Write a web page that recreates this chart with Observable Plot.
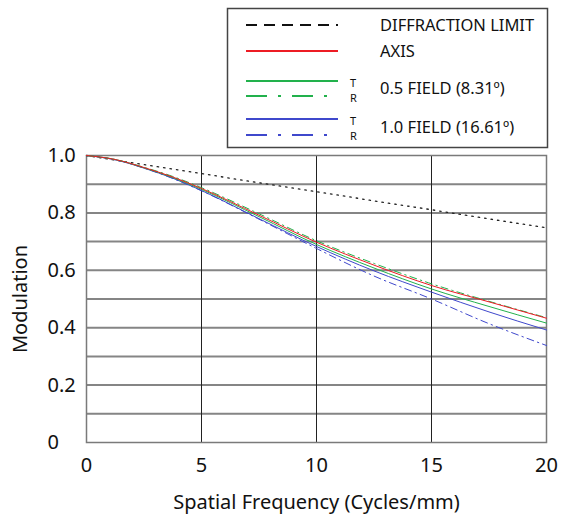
<!DOCTYPE html>
<html>
<head>
<meta charset="utf-8">
<script src="https://cdn.jsdelivr.net/npm/d3@7"></script>
<script src="https://cdn.jsdelivr.net/npm/@observablehq/plot@0.6"></script>
<style>
  html, body { margin: 0; padding: 0; background: #fff; }
  #wrap { position: relative; width: 571px; height: 517px; font-family: "Noto Sans", "Open Sans", sans-serif; }
  #legend { position: absolute; left: 0; top: 0; }
</style>
</head>
<body>
<div id="wrap">
  <div id="chart"></div>
  <svg id="legend" width="571" height="150"></svg>
</div>
<script>
// Spatial frequency (cycles/mm)
const freq = [0, 1.25, 2.5, 3.75, 5, 7.5, 10, 12.5, 15, 17.5, 20];
// Modulation values
const diffraction = [1.0, 0.984, 0.968, 0.953, 0.937, 0.905, 0.874, 0.842, 0.811, 0.779, 0.748];
const axisMTF    = [1.0, 0.986, 0.958, 0.925, 0.885, 0.792, 0.698, 0.618, 0.547, 0.490, 0.433];
const half_T     = [1.0, 0.986, 0.957, 0.923, 0.882, 0.787, 0.690, 0.608, 0.535, 0.474, 0.416];
const half_R     = [1.0, 0.986, 0.959, 0.927, 0.888, 0.797, 0.703, 0.624, 0.553, 0.492, 0.435];
const full_T     = [1.0, 0.985, 0.956, 0.921, 0.878, 0.780, 0.683, 0.598, 0.524, 0.455, 0.392];
const full_R     = [1.0, 0.985, 0.956, 0.920, 0.877, 0.778, 0.676, 0.580, 0.500, 0.414, 0.338];

const xTicks = [0, 5, 10, 15, 20];
const yTicks = [0, 0.2, 0.4, 0.6, 0.8, 1.0];
const yGrid = [0.1, 0.2, 0.3, 0.4, 0.5, 0.6, 0.7, 0.8, 0.9];
const xGrid = [5, 10, 15];

const legendItems = [
  {label: "DIFFRACTION LIMIT"},
  {label: "AXIS"},
  {label: "0.5 FIELD (8.31º)"},
  {label: "1.0 FIELD (16.61º)"}
];

const RED = "#ed1c24", GREEN = "#22b14c", BLUE = "#3f48cc";

const toRows = (vals) => freq.map((f, i) => ({f, v: vals[i]}));

const lineOpts = {x: "f", y: "v", curve: "monotone-x", strokeWidth: 1};

const chart = Plot.plot({
  width: 571,
  height: 517,
  marginTop: 155,
  marginLeft: 86,
  marginRight: 25,
  marginBottom: 75,
  style: {fontFamily: "'Noto Sans', 'Open Sans', sans-serif", fontSize: "19px", color: "#111", background: "#fff"},
  x: {domain: [0, 20]},
  y: {domain: [0, 1]},
  marks: [
    Plot.gridY(yGrid, {stroke: "#858585", strokeWidth: 2, strokeOpacity: 1}),
    Plot.gridX(xGrid, {stroke: "#222", strokeWidth: 1, strokeOpacity: 1}),
    Plot.frame({stroke: "#7a7a7a", strokeWidth: 1.5}),
    Plot.line(toRows(diffraction), {...lineOpts, stroke: "#222", strokeWidth: 1.3, strokeDasharray: "1.5,5"}),
    Plot.line(toRows(full_R), {...lineOpts, stroke: BLUE, strokeDasharray: "7,4,1.5,4"}),
    Plot.line(toRows(full_T), {...lineOpts, stroke: BLUE}),
    Plot.line(toRows(half_R), {...lineOpts, stroke: GREEN, strokeDasharray: "7,4,1.5,4"}),
    Plot.line(toRows(half_T), {...lineOpts, stroke: GREEN}),
    Plot.line(toRows(axisMTF), {...lineOpts, stroke: RED}),
    Plot.axisY(yTicks, {
      tickSize: 0, tickPadding: 0, textAnchor: "start", dx: -39,
      tickFormat: d => d === 0 ? "0" : d.toFixed(1),
      label: "Modulation", labelAnchor: "center", labelArrow: "none", labelOffset: 74,
      fontSize: 20
    }),
    Plot.axisX(xTicks, {
      tickSize: 0, tickPadding: 15,
      label: "Spatial Frequency (Cycles/mm)", labelAnchor: "center", labelArrow: "none", labelOffset: 66,
      fontSize: 20
    })
  ]
});
document.getElementById("chart").appendChild(chart);

// Legend
const lg = d3.select("#legend");
lg.append("rect").attr("x", 227.5).attr("y", 8.5).attr("width", 320).attr("height", 139)
  .attr("fill", "#fff").attr("stroke", "#444").attr("stroke-width", 1.5);
const lx1 = 246, lx2 = 338;
const seg = (y, color, dash) => lg.append("line").attr("x1", lx1).attr("x2", lx2).attr("y1", y).attr("y2", y)
  .attr("stroke", color).attr("stroke-width", 2.2).attr("stroke-dasharray", dash || null);
seg(25, "#111", "11,7");
seg(51, RED);
seg(81, GREEN);
seg(96, GREEN, "21,11,3,11");
seg(119, BLUE);
seg(135, BLUE, "21,11,3,11");
const txt = (x, y, s, size) => lg.append("text").attr("x", x).attr("y", y).attr("dy", "0.35em")
  .attr("font-size", size).attr("fill", "#111").attr("font-family", "'Noto Sans', 'Open Sans', sans-serif").text(s);
txt(380, 25, legendItems[0].label, 16.5);
txt(380, 51, legendItems[1].label, 16.5);
txt(380, 88, legendItems[2].label, 16.5);
txt(380, 127, legendItems[3].label, 16.5);
txt(350, 83, "T", 11);
txt(350, 98, "R", 11);
txt(350, 121, "T", 11);
txt(350, 136, "R", 11);
</script>
</body>
</html>
